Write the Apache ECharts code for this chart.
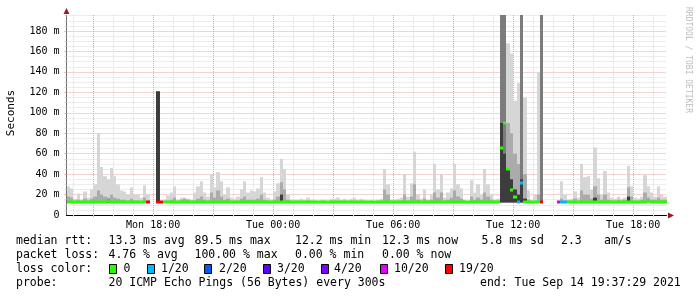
<!DOCTYPE html>
<html>
<head>
<meta charset="utf-8">
<script src="https://cdn.jsdelivr.net/npm/echarts@6/dist/echarts.min.js"></script>
<style>
html, body { margin: 0; padding: 0; background: #fff; }
#smokeChart { width: 697px; height: 297px; }
</style>
</head>
<body>
<div id="smokeChart"></div>
<script>
// 10 minute buckets, first one starts Mon 13:40 (hours counted from Mon 00:00)
const startHour = 13 + 40 / 60
const stepHours = 1 / 6
const yMax = 195.65
const pingFloor = 12.2

// median rtt per bucket (ms), null = no data
const medianRtt = [
    12.6, 12.6, 12.6, 12.6, 12.6, 12.6, 12.6, 12.6, 12.8, 13.0,
    13.2, 13.0, 13.4, 12.8, 12.8, 12.6, 12.6, 12.6, 12.6, 12.6,
    12.6, 12.6, 12.6, 12.6, 12.6, null, null, 12.4, 12.4, 12.6,
    12.6, 12.8, 12.8, 12.6, 12.8, 12.8, 12.8, 12.6, 12.6, 12.8,
    12.8, 12.8, 12.8, 12.8, 12.8, 12.8, 12.8, 12.8, 12.8, 12.8,
    12.8, 12.8, 12.8, 12.6, 12.6, 12.6, 12.6, 12.8, 12.8, 12.8,
    12.6, 12.6, 12.6, 12.8, 13.0, 12.8, 12.6, 12.6, 12.4, 12.4,
    12.4, 12.4, 12.4, 12.4, 12.4, 12.4, 12.4, 12.4, 12.4, 12.4,
    12.4, 12.4, 12.4, 12.4, 12.4, 12.4, 12.4, 12.4, 12.4, 12.4,
    12.4, 12.4, 12.4, 12.4, 12.4, 12.6, 12.6, 12.4, 12.4, 12.4,
    12.4, 12.6, 12.4, 12.6, 12.8, 12.6, 12.4, 12.4, 12.4, 12.4,
    12.8, 12.6, 13.2, 12.6, 12.4, 12.4, 12.6, 12.6, 12.4, 12.4,
    12.4, 12.4, 12.4, 12.4, 12.4, 12.4, 12.4, 12.4, 12.4, 12.4,
    66, 90, 45, 24, 18, 12.6, 31, 12.6, 12.4, 12.4,
    12.4, 12.4, 12.4, null, null, null, null, 12.4, 12.4, 12.4,
    12.4, 12.4, 12.4, 12.4, 12.4, 12.4, 12.4, 12.4, 12.4, 12.4,
    12.4, 12.4, 12.4, 12.4, 12.4, 12.4, 12.4, 12.4, 12.6, 12.6,
    12.4, 12.4, 12.4, 12.8, 13.4, 12.8, 12.4, 12.4, 12.4, 12.4
]

// highest ping of the bucket (light smoke)
const smokeMax = [
    28, 26, 16, 21, 15, 23, 17, 25, 30, 80,
    47, 38, 35, 46, 38, 30, 24, 23, 20, 27,
    20, 20, 17, 29, 20, null, null, 121, 14, 15,
    19, 22, 28, 15, 17, 17, 16, 15, 22, 28,
    33, 22, 18, 40, 27, 42, 33, 20, 27, 17,
    16, 18, 25, 33, 22, 24, 23, 26, 37, 22,
    17, 15, 23, 31, 55, 45, 20, 15, 15, 15,
    16, 15, 17, 15, 15, 14, 15, 15, 14, 16,
    16, 17, 15, 16, 15, 16, 17, 15, 16, 15,
    14, 15, 14, 15, 16, 45, 30, 15, 15, 16,
    17, 40, 18, 31, 62, 20, 16, 25, 15, 20,
    50, 25, 40, 17, 22, 26, 50, 30, 26, 15,
    14, 34, 22, 30, 20, 45, 30, 20, 15, 16,
    196, 196, 168, 158, 112, 129, 196, 115, 24, 15,
    20, 140, 196, null, null, null, null, 14, 33, 20,
    15, 16, 23, 17, 50, 37, 38, 25, 66, 36,
    20, 43, 22, 17, 16, 18, 16, 17, 48, 28,
    17, 16, 18, 39, 28, 22, 18, 28, 20, 18
]

// top of the denser (medium grey) part of the smoke
const smokeMid = [
    18, 17, 14, 15, 13.5, 16, 14, 16, 18, 24,
    20, 18, 17, 20, 17, 16, 15, 15, 14, 16,
    14, 14, 13.5, 17, 14, null, null, 121, 13.5, 13.5,
    14, 15, 17, 13.5, 15, 16, 15, 14, 14, 16,
    18, 15, 14, 22, 17, 24, 18, 15, 16, 14,
    14, 14, 16, 18, 15, 15, 15, 16, 20, 15,
    14, 13.5, 15, 18, 32, 25, 15, 13.5, 13.5, 13.5,
    14, 13.5, 14, 13.5, 13.5, 13.5, 13.5, 13.5, 13.5, 14,
    14, 14, 13.5, 14, 13.5, 14, 14, 13.5, 14, 13.5,
    13.5, 13.5, 13.5, 13.5, 14, 25, 20, 14, 14, 14,
    14, 20, 14, 18, 30, 15, 14, 16, 14, 15,
    22, 17, 22, 14, 15, 17, 24, 18, 16, 14,
    13.5, 18, 15, 17, 15, 22, 18, 15, 14, 14,
    100, 100, 90, 80, 60, 50, 100, 40, 15, 13.5,
    13.5, 20, 100, null, null, null, null, 13.5, 16, 14,
    14, 14, 16, 14, 24, 20, 20, 16, 28, 20,
    15, 20, 15, 14, 14, 15, 14, 15, 27, 18,
    14, 14, 15, 22, 17, 15, 15, 17, 15, 15
]

// buckets with a dark core in the smoke
const darkSlots = [12, 27, 64, 130, 131, 132, 133, 134, 135, 136, 137, 158, 168]
const darkTop = [15, 121, 20, 90, 60, 45, 35, 25, 20, 35, 16, 17, 18]

// buckets whose pings run off the top of the graph
const offScaleSlots = [130, 131, 136, 142]

// packet loss (of 20) where it is not 0
const lossSlots = [24, 27, 28, 135, 136, 142, 147, 148, 149]
const lossCount = [19, 19, 19, 1, 1, 19, 10, 1, 1]

const lossSteps = [0, 1, 2, 3, 4, 10, 19]
const lossLabels = ['0', '1/20', '2/20', '3/20', '4/20', '10/20', '19/20']
const lossColors = ['#26ff00', '#00b8ff', '#0059ff', '#5e00ff', '#7e00ff', '#dd00ff', '#ff0000']

const xLabelHours = [18, 24, 30, 36, 42]
const xLabelText = ['Mon 18:00', 'Tue 00:00', 'Tue 06:00', 'Tue 12:00', 'Tue 18:00']
const yLabelValues = [0, 20, 40, 60, 80, 100, 120, 140, 160, 180]

const mono = 'DejaVu Sans Mono'
const endHour = startHour + medianRtt.length * stepHours

let majorHours = []
let minorHours = []
for (let h = 14; h <= 43; h++) {
    if (h % 3 === 0) majorHours.push(h)
    else minorHours.push(h)
}
let majorMs = []
let minorMs = []
for (let v = 5; v <= 195; v += 5) {
    if (v % 20 === 0) majorMs.push(v)
    else minorMs.push(v)
}

let smokeRows = []
smokeMax.forEach((hi, i) => {
    if (hi == null) return
    let d = darkSlots.indexOf(i)
    smokeRows.push([
        startHour + i * stepHours,
        startHour + (i + 1) * stepHours,
        hi,
        smokeMid[i],
        d >= 0 ? darkTop[d] : 0,
        offScaleSlots.indexOf(i) >= 0 ? 1 : 0
    ])
})

let medianRows = []
medianRtt.forEach((m, i) => {
    if (m == null) return
    let l = lossSlots.indexOf(i)
    let count = l >= 0 ? lossCount[l] : 0
    medianRows.push([startHour + i * stepHours, startHour + (i + 1) * stepHours, m, lossSteps.indexOf(count)])
})

function renderSmoke(params, api) {
    let x0 = Math.round(api.coord([api.value(0), 0])[0])
    let x1 = Math.round(api.coord([api.value(1), 0])[0])
    let base = api.coord([api.value(0), pingFloor])[1]
    let bar = (top, color) => {
        let y = api.coord([api.value(0), top])[1]
        return {
            type: 'rect',
            shape: { x: x0, y: y, width: x1 - x0, height: base - y },
            style: { fill: color }
        }
    }
    let kids = []
    if (api.value(5)) {
        kids.push(bar(yMax, '#7c7c7c'))
    } else {
        kids.push(bar(api.value(2), '#d6d6d6'))
        kids.push(bar(api.value(3), '#ababab'))
    }
    if (api.value(4) > 0) kids.push(bar(api.value(4), '#3d3d3d'))
    return { type: 'group', children: kids }
}

function renderMedian(params, api) {
    let x0 = Math.round(api.coord([api.value(0), 0])[0])
    let x1 = Math.round(api.coord([api.value(1), 0])[0])
    let y = api.coord([api.value(0), api.value(2)])[1]
    return {
        type: 'rect',
        shape: { x: x0, y: Math.round(y) - 1.5, width: x1 - x0, height: 3 },
        style: { fill: lossColors[api.value(3)] }
    }
}

function legendText(x, y, text) {
    return {
        type: 'text', x: x, y: y,
        style: { text: text, fill: '#000', fontFamily: mono, fontSize: 11.5, textVerticalAlign: 'middle', verticalAlign: 'middle' }
    }
}

let statsItems = [
    legendText(16, 241, 'median rtt:'),
    legendText(108.5, 241, '13.3 ms avg'),
    legendText(194.5, 241, '89.5 ms max'),
    legendText(295, 241, '12.2 ms min'),
    legendText(382, 241, '12.3 ms now'),
    legendText(481.5, 241, '5.8 ms sd'),
    legendText(561, 241, '2.3'),
    legendText(604, 241, 'am/s'),
    legendText(16, 255, 'packet loss:'),
    legendText(108.5, 255, '4.76 % avg'),
    legendText(194.5, 255, '100.00 % max'),
    legendText(295, 255, '0.00 % min'),
    legendText(382, 255, '0.00 % now'),
    legendText(16, 269, 'loss color:'),
    legendText(16, 283, 'probe:'),
    legendText(108.5, 283, '20 ICMP Echo Pings (56 Bytes) every 300s'),
    legendText(480, 283, 'end: Tue Sep 14 19:37:29 2021')
]
let boxX = [109.5, 147.5, 204.5, 263.5, 321.5, 380.5, 445.5]
let boxTextX = [123.5, 161, 219, 277, 334, 394, 459]
lossColors.forEach((c, k) => {
    statsItems.push({
        type: 'rect',
        shape: { x: boxX[k], y: 264.5, width: 7, height: 9 },
        style: { fill: c, stroke: '#000', lineWidth: 1 }
    })
    statsItems.push(legendText(boxTextX[k], 269, lossLabels[k]))
})

let smokeChart = echarts.init(document.getElementById('smokeChart'), null, { renderer: 'canvas' })
let option = {
    animation: false,
    backgroundColor: '#fff',
    grid: { left: 66.5, top: 15, width: 600, height: 200, containLabel: false, outerBoundsMode: 'none' },
    xAxis: [
        {
            type: 'value', min: startHour, max: endHour, position: 'bottom',
            axisLine: { show: true, lineStyle: { color: '#000', width: 1 } },
            axisTick: { show: true, customValues: majorHours, length: 2, lineStyle: { color: '#e4a0a0' } },
            axisLabel: {
                customValues: xLabelHours,
                formatter: (v) => xLabelText[xLabelHours.indexOf(Math.round(v))],
                fontFamily: mono, fontSize: 10, color: '#000', margin: 5
            },
            splitLine: { show: true, lineStyle: { color: '#e8a6a6', type: [1, 1] } }
        },
        {
            type: 'value', min: startHour, max: endHour, position: 'bottom',
            axisLine: { show: false },
            axisTick: { show: true, customValues: minorHours, length: 2, lineStyle: { color: '#d8d8d8' } },
            axisLabel: { show: false },
            splitLine: { show: true, lineStyle: { color: '#dadada', type: [1, 1] } }
        }
    ],
    yAxis: [
        {
            type: 'value', min: 0, max: yMax, position: 'left',
            axisLine: { show: true, lineStyle: { color: '#707070', width: 1 } },
            axisTick: { show: true, customValues: majorMs, length: 2, lineStyle: { color: '#e4a0a0' } },
            axisLabel: {
                customValues: yLabelValues,
                formatter: (v) => (v === 0 ? '0' : Math.round(v) + ' m'),
                fontFamily: mono, fontSize: 10, color: '#000', margin: 7
            },
            splitLine: { show: true, lineStyle: { color: '#e8a6a6', type: [1, 1] } }
        },
        {
            type: 'value', min: 0, max: yMax, position: 'left', offset: 0,
            axisLine: { show: false },
            axisTick: { show: true, customValues: minorMs, length: 2, lineStyle: { color: '#d8d8d8' } },
            axisLabel: { show: false },
            splitLine: { show: true, lineStyle: { color: '#dadada', type: [1, 1] } }
        }
    ],
    graphic: [
        {
            type: 'text', x: 11, y: 113, rotation: Math.PI / 2,
            style: { text: 'Seconds', fill: '#000', fontFamily: mono, fontSize: 11, textAlign: 'center', textVerticalAlign: 'middle', align: 'center', verticalAlign: 'middle' }
        },
        {
            type: 'text', x: 688, y: 60, rotation: -Math.PI / 2,
            style: { text: 'RRDTOOL / TOBI OETIKER', fill: '#bdbdbd', fontFamily: mono, fontSize: 8, textAlign: 'center', textVerticalAlign: 'middle', align: 'center', verticalAlign: 'middle' }
        },
        {
            type: 'polygon', shape: { points: [[66.5, 8], [63.5, 14], [69.5, 14]] },
            style: { fill: '#9a1c1c' }
        },
        {
            type: 'polygon', shape: { points: [[674, 215.5], [668, 212.5], [668, 218.5]] },
            style: { fill: '#9a1c1c' }
        }
    ].concat(statsItems),
    series: [
        {
            type: 'custom',
            name: 'smoke',
            xAxisIndex: 0, yAxisIndex: 0,
            renderItem: renderSmoke,
            encode: { x: [0, 1], y: [2] },
            data: smokeRows,
            z: 2
        },
        {
            type: 'custom',
            name: 'median rtt',
            xAxisIndex: 0, yAxisIndex: 0,
            renderItem: renderMedian,
            encode: { x: [0, 1], y: [2] },
            data: medianRows,
            z: 3
        }
    ]
}
smokeChart.setOption(option)
</script>
</body>
</html>
